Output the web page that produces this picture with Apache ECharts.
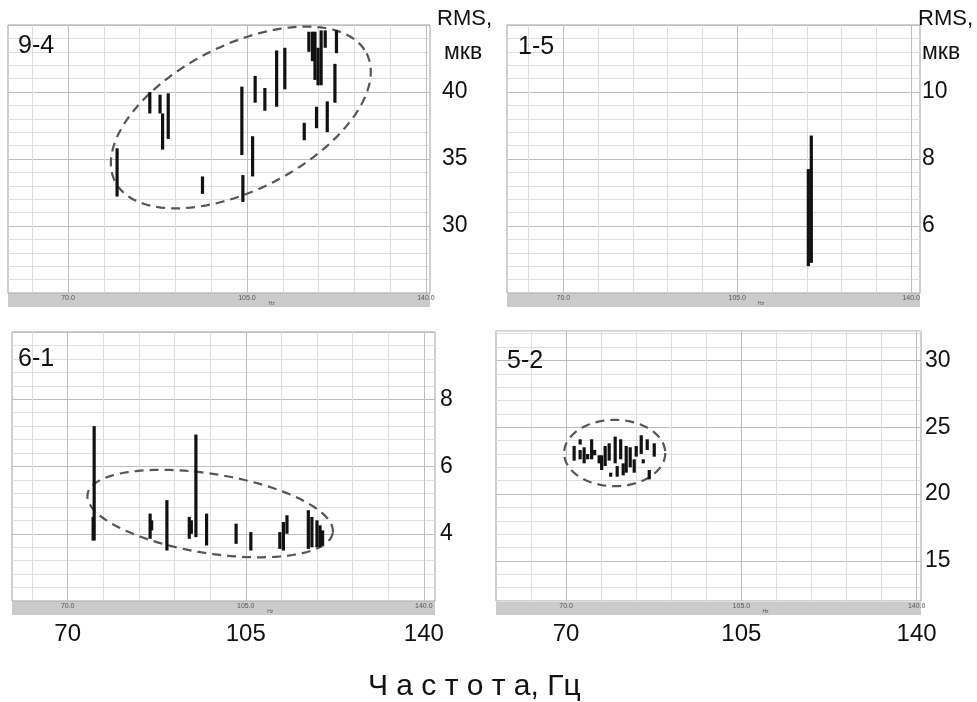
<!DOCTYPE html>
<html>
<head>
<meta charset="utf-8">
<script src="https://cdn.jsdelivr.net/npm/echarts@6/dist/echarts.min.js"></script>
<style>
  html, body { margin: 0; padding: 0; background: #fff; }
  #chart { width: 977px; height: 702px; }
</style>
</head>
<body>
<div id="chart"></div>
<script>
// frequency grid lines and labels, Hz
const freqTicks = [63, 70, 77, 84, 91, 98, 105, 112, 119, 126, 133, 140]
const freqLabels = [70, 105, 140]

// each bar: [frequency Hz, RMS low, RMS high]
const bars94 = [
  [79.6, 32.2, 35.8], [86.0, 38.4, 40.0], [88.0, 38.4, 39.8], [88.5, 35.7, 38.4],
  [89.6, 36.5, 39.9], [96.3, 32.4, 33.7], [104.0, 35.3, 40.4], [104.2, 31.8, 33.8],
  [106.1, 33.7, 36.7], [106.6, 39.2, 41.2], [108.5, 38.6, 40.3], [110.8, 38.9, 43.1],
  [112.4, 40.2, 43.3], [116.2, 36.4, 37.7], [117.1, 43.0, 44.5], [117.8, 42.3, 44.5],
  [118.3, 40.9, 44.5], [118.6, 37.3, 38.9], [118.9, 40.5, 43.3], [119.5, 40.5, 44.6],
  [120.3, 43.3, 44.6], [120.7, 37.0, 39.3], [122.2, 39.2, 42.1], [122.5, 42.9, 44.6]
]
const bars15 = [
  [119.3, 4.8, 7.7], [119.9, 4.9, 8.7]
]
const bars61 = [
  [75.0, 3.8, 4.5], [75.2, 3.8, 7.2], [86.2, 3.85, 4.6], [86.5, 4.1, 4.4],
  [89.5, 3.5, 5.0], [93.9, 3.85, 4.5], [94.3, 4.0, 4.4], [95.2, 3.9, 6.95],
  [97.3, 3.65, 4.6], [103.1, 3.7, 4.3], [106.0, 3.5, 4.05], [111.7, 3.55, 4.05],
  [112.4, 3.5, 4.35], [113.1, 4.0, 4.55], [117.3, 3.55, 4.7], [118.0, 3.6, 4.5],
  [119.0, 3.6, 4.4], [119.6, 3.6, 4.25], [120.1, 3.65, 4.1]
]
const bars52 = [
  [71.6, 22.5, 23.6], [72.8, 23.7, 24.1], [72.8, 22.6, 23.3], [73.6, 22.3, 23.5],
  [74.3, 22.6, 23.0], [75.1, 22.6, 24.1], [75.7, 22.9, 23.3], [76.6, 22.3, 22.9],
  [77.1, 21.8, 22.9], [77.8, 22.1, 23.6], [78.6, 22.5, 23.8], [78.9, 21.3, 21.6],
  [79.8, 22.3, 24.3], [80.2, 21.3, 22.1], [80.9, 22.6, 24.1], [81.4, 21.4, 22.3],
  [82.0, 21.6, 23.6], [82.8, 22.0, 23.5], [83.6, 21.6, 22.6], [84.0, 22.8, 23.6],
  [85.0, 23.0, 24.4], [85.4, 22.3, 22.6], [86.2, 23.3, 24.1], [86.6, 21.1, 21.8],
  [87.6, 22.8, 23.8]
]

// dashed ellipses: [centre Hz, centre RMS, half-width Hz, half-height RMS, tilt deg]
const ellipse94 = [103.8, 38.1, 27.6, 5.4, 27]
const ellipse61 = [98.0, 4.6, 24.4, 1.18, -9]
const ellipse52 = [79.7, 23.07, 10.1, 2.48, 0]

// right-hand RMS tick labels
const yLabels94 = [30, 35, 40]
const yLabels15 = [6, 8, 10]
const yLabels61 = [4, 6, 8]
const yLabels52 = [15, 20, 25, 30]

const FONT = '"Liberation Sans", Arial, sans-serif'

const panels = [
  { title: '9-4', bars: bars94, ellipse: ellipse94, yLabels: yLabels94,
    xMin: 58.27, xMax: 140.79, yMin: 25, yMax: 45, yStep: 1, yMajor: 5,
    box: { left: 8, top: 25, width: 422, height: 268 }, labelGap: 12, freqText: false },
  { title: '1-5', bars: bars15, ellipse: null, yLabels: yLabels15,
    xMin: 58.67, xMax: 141.77, yMin: 4, yMax: 12, yStep: 0.4, yMajor: 2,
    box: { left: 507, top: 25, width: 413, height: 268 }, labelGap: 2, freqText: false },
  { title: '6-1', bars: bars61, ellipse: ellipse61, yLabels: yLabels61,
    xMin: 59.05, xMax: 142.2, yMin: 2, yMax: 10, yStep: 0.4, yMajor: 2,
    box: { left: 12, top: 332, width: 423, height: 269 }, labelGap: 5, freqText: true },
  { title: '5-2', bars: bars52, ellipse: ellipse52, yLabels: yLabels52,
    xMin: 56.0, xMax: 140.87, yMin: 12, yMax: 32.2, yStep: 1, yMajor: 5,
    box: { left: 496, top: 331, width: 425, height: 270 }, labelGap: 4, freqText: true }
]

const MINOR = '#dedede'
const MAJOR = '#bdbdbd'

function majorCycle(min, step, major) {
  const n = Math.round(major / step)
  const first = Math.round(((major - (min % major)) % major) / step)
  const arr = []
  for (let i = 0; i < n; i++) arr.push(i === first % n ? MAJOR : MINOR)
  return arr
}

function barSeries(data, idx) {
  return {
    type: 'custom',
    xAxisIndex: idx,
    yAxisIndex: idx,
    data: data,
    encode: { x: 0, y: [1, 2] },
    silent: true,
    renderItem: (params, api) => {
      const hi = api.coord([api.value(0), api.value(2)])
      const lo = api.coord([api.value(0), api.value(1)])
      return {
        type: 'rect',
        shape: { x: hi[0] - 1.6, y: hi[1], width: 3.2, height: lo[1] - hi[1] },
        style: { fill: '#111' }
      }
    }
  }
}

function ellipseSeries(e, idx) {
  return {
    type: 'custom',
    xAxisIndex: idx,
    yAxisIndex: idx,
    data: [e],
    encode: { x: 0, y: 1 },
    silent: true,
    z: 1,
    renderItem: (params, api) => {
      const c = api.coord([api.value(0), api.value(1)])
      const rx = api.size([api.value(2), 0])[0]
      const ry = api.size([0, api.value(3)])[1]
      const t = -api.value(4) * Math.PI / 180
      const pts = []
      for (let i = 0; i <= 144; i++) {
        const a = i / 144 * 2 * Math.PI
        const ex = rx * Math.cos(a)
        const ey = ry * Math.sin(a)
        pts.push([c[0] + ex * Math.cos(t) - ey * Math.sin(t), c[1] + ex * Math.sin(t) + ey * Math.cos(t)])
      }
      return {
        type: 'polyline',
        shape: { points: pts },
        style: { stroke: '#555', lineWidth: 2.2, lineDash: [9, 6], fill: null }
      }
    }
  }
}

const textStyle = (size, color) => ({ fontSize: size, fontWeight: 'normal', color: color || '#111', fontFamily: FONT, lineHeight: size })

let grids = [], xAxes = [], yAxes = [], series = [], titles = []

panels.forEach((p, i) => {
  const main = i * 2
  const strip = i * 2 + 1
  const stripTop = p.box.top + p.box.height
  grids.push({ left: p.box.left, top: p.box.top, width: p.box.width, height: p.box.height,
    show: true, borderColor: '#a0a0a0', borderWidth: 1, backgroundColor: '#fff' })
  grids.push({ left: p.box.left, top: stripTop, width: p.box.width, height: 14,
    show: true, borderWidth: 0, backgroundColor: '#cbcbcb' })

  xAxes.push({
    gridIndex: main, type: 'value', min: p.xMin, max: p.xMax,
    axisLine: { show: false },
    axisTick: { show: false, customValues: freqTicks },
    splitLine: { show: true, lineStyle: { width: 1, color: [MINOR, MAJOR, MINOR, MINOR, MINOR] } },
    axisLabel: { show: p.freqText, customValues: freqLabels, margin: 21,
      fontSize: 24, color: '#111', fontFamily: FONT }
  })
  xAxes.push({
    gridIndex: strip, type: 'value', min: p.xMin, max: p.xMax, position: 'top',
    axisLine: { show: false }, axisTick: { show: false }, splitLine: { show: false },
    axisLabel: { inside: true, customValues: freqLabels, margin: 2, fontSize: 7,
      color: '#555', fontFamily: FONT, formatter: v => v.toFixed(1) }
  })
  yAxes.push({
    gridIndex: main, type: 'value', position: 'right',
    min: p.yMin, max: p.yMax, interval: p.yStep,
    axisLine: { show: false }, axisTick: { show: false },
    splitLine: { show: true, lineStyle: { width: 1, color: majorCycle(p.yMin, p.yStep, p.yMajor) } },
    axisLabel: {
      margin: p.labelGap, fontSize: 23, color: '#111', fontFamily: FONT,
      formatter: v => p.yLabels.some(l => Math.abs(l - v) < 1e-6) ? String(Math.round(v)) : ''
    }
  })
  yAxes.push({ gridIndex: strip, type: 'value', min: 0, max: 1, show: false })

  if (p.ellipse) series.push(ellipseSeries(p.ellipse, main))
  series.push(barSeries(p.bars, main))

  // small "Hz" unit text under the strip labels, a little right of 105
  const hzX = p.box.left + (110 - p.xMin) / (p.xMax - p.xMin) * p.box.width
  titles.push({ text: 'Hz', left: hzX - 4, top: stripTop + 8, padding: 0, textStyle: textStyle(5, '#555') })
})

titles = titles.concat([
  { text: '9-4', left: 18, top: 34, padding: 0, textStyle: textStyle(25) },
  { text: '1-5', left: 518, top: 35, padding: 0, textStyle: textStyle(25) },
  { text: '6-1', left: 18, top: 347, padding: 0, textStyle: textStyle(25) },
  { text: '5-2', left: 507, top: 349, padding: 0, textStyle: textStyle(25) },
  { text: 'RMS,', left: 437, top: 8, padding: 0, textStyle: textStyle(22) },
  { text: 'мкв', left: 444, top: 41, padding: 0, textStyle: textStyle(23) },
  { text: 'RMS,', left: 918, top: 8, padding: 0, textStyle: textStyle(22) },
  { text: 'мкв', left: 922, top: 41, padding: 0, textStyle: textStyle(23) },
  { text: 'Ч а с т о т а, Гц', left: 368, top: 672, padding: 0, textStyle: textStyle(30) }
])

const chart = echarts.init(document.getElementById('chart'))
chart.setOption({
  animation: false,
  backgroundColor: '#fff',
  title: titles,
  grid: grids,
  xAxis: xAxes,
  yAxis: yAxes,
  series: series
})
</script>
</body>
</html>
